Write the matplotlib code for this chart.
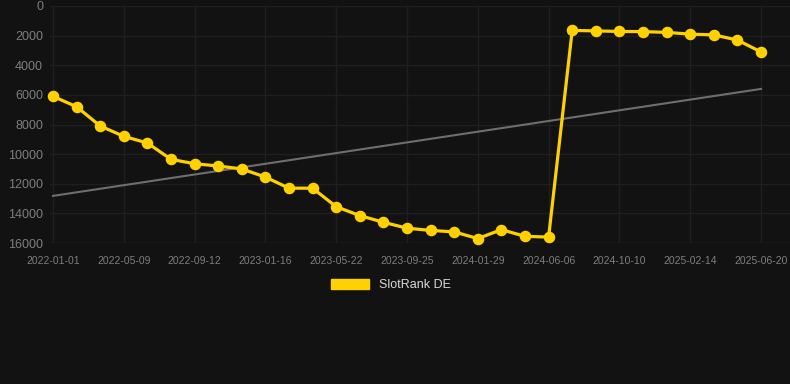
import matplotlib
matplotlib.use("Agg")
import matplotlib.pyplot as plt
from matplotlib.patches import Patch
import numpy as np

plt.rcParams['font.family'] = ['Liberation Sans', 'DejaVu Sans']

tick_labels = ["2022-01-01", "2022-05-09", "2022-09-12", "2023-01-16", "2023-05-22",
               "2023-09-25", "2024-01-29", "2024-06-06", "2024-10-10", "2025-02-14",
               "2025-06-20"]
rank_values = [6100, 6800, 8100, 8800, 9250, 10350, 10650, 10800, 11000, 11550,
               12300, 12300, 13550, 14150, 14600, 15000, 15150, 15250, 15700, 15100,
               15550, 15600, 1650, 1680, 1720, 1730, 1780, 1900, 1950, 2300, 3100]
series_name = "SlotRank DE"
y_ticks = [0, 2000, 4000, 6000, 8000, 10000, 12000, 14000, 16000]

BG = "#121212"
YEL = "#FFD100"

fig = plt.figure(figsize=(7.9, 3.84), dpi=100, facecolor=BG)
ax = fig.add_axes([50/790, 1 - 243/384, 740/790, 237/384], facecolor=BG)

x = np.arange(len(rank_values))
coef = np.polyfit(x, rank_values, 1)
trend = np.polyval(coef, x)
ax.plot(x, trend, color="#6e6e6e", lw=1.5, zorder=2)
ax.plot(x, rank_values, color=YEL, lw=2.3, marker="o", markersize=7.3, zorder=3,
        clip_on=False)

ax.set_ylim(16000, 0)
ax.set_xlim(-3/23.6, 30 + 29/23.6)
ax.set_yticks(y_ticks)
ax.set_yticklabels([str(v) for v in y_ticks])
ax.set_xticks(np.arange(0, len(rank_values), 3))
ax.set_xticklabels(tick_labels)
ax.grid(True, color="#1f1f1f", lw=1.0)
ax.axhline(16000, color="#2a2a2a", lw=1.0, zorder=1)
ax.set_axisbelow(True)
for s in ax.spines.values():
    s.set_visible(False)
ax.tick_params(axis='y', length=0, pad=5, labelsize=9, labelcolor="#7e7e7e")
ax.tick_params(axis='x', length=0, pad=9, labelsize=7.5, labelcolor="#7e7e7e")

leg = fig.legend(handles=[Patch(facecolor=YEL, edgecolor=YEL, label=series_name)],
                 loc="center", bbox_to_anchor=(391/790, 1 - 285/384), frameon=False,
                 handlelength=3.0, handleheight=0.85, fontsize=9)
for t in leg.get_texts():
    t.set_color("#d8d8d8")

fig.savefig("out.png", dpi=100, facecolor=BG)
